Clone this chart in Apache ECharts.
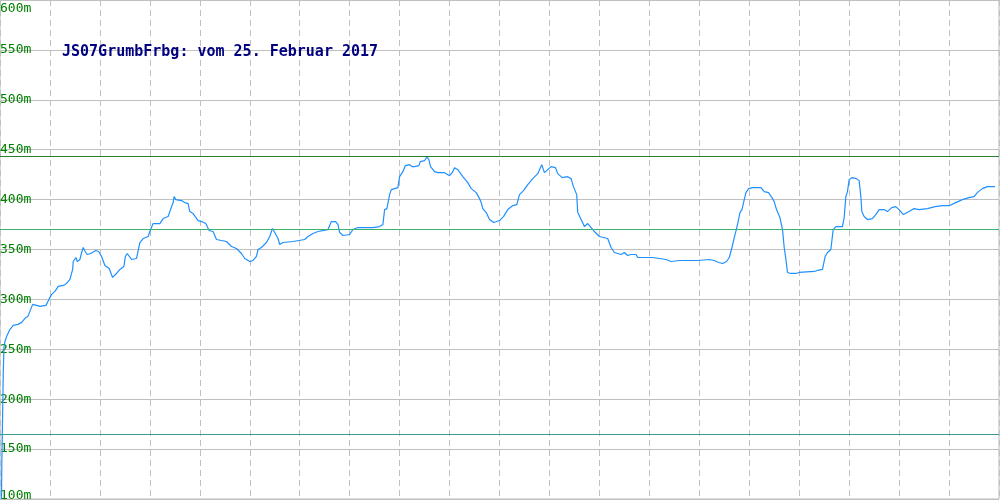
<!DOCTYPE html>
<html>
<head>
<meta charset="utf-8">
<script src="https://cdn.jsdelivr.net/npm/echarts@6/dist/echarts.min.js"></script>
<style>html,body{margin:0;padding:0;background:#fff}#c{width:1000px;height:500px}</style>
</head>
<body>
<div id="c"></div>
<script>
const titleText = 'JS07GrumbFrbg: vom 25. Februar 2017';
const distX = [1.5,1.8,2.7,3.3,4,5,6.7,10,13.3,18,21.7,25,28,30.7,32.7,36.7,40,46,49,51.7,55,58.3,63.3,66.7,70,72.7,73.3,76,77.3,78.7,80,81.7,83.3,85.3,87.3,90.7,92.7,96,98.7,101.7,105,109.3,112.7,116.7,120,124,125.5,127.3,131.7,136.7,138.3,140,143.3,148.3,150.7,153.3,160,163.3,168.3,170.7,173.3,174.3,176,181.7,185,188.3,190,193.3,198.3,201.7,206,209.3,213.3,216.7,221.7,226.7,231.7,236.7,241.7,245,250,253.3,256.7,258.3,261.7,266.7,270,272.7,275,278.3,280,283.3,293.3,305,308.3,313.3,318.3,328.3,331.7,336,338.3,340,343.3,350,353.3,358.3,373.3,380,383.3,385,387.3,390,391.7,398.3,400,403.3,405.7,410,412.7,415,419.3,420.7,425,427.3,429.3,431,435,438.3,445,450,452.7,455,458.3,463.3,468.3,471.7,476.7,480,481.7,483.3,486.7,490,494.3,500,504,508.3,513.3,517.3,520,524,528.3,533.3,538.3,542.3,545,548.3,551.7,556,558.3,562.7,568.3,571.7,574,577.3,578.3,581.7,585,588.3,591,595,600,608.3,611.7,615,621.7,625,628.3,631.7,636.7,638.3,653.3,666.7,671.7,680,698.3,710,715,719.3,723.3,727.3,730,732.7,735,737.3,739.3,740.7,742.7,745,746.7,749.3,753.3,761.7,765,769.3,772.7,775,777.3,780.7,783.3,785,786.7,788.3,791.7,796.7,800,815,818.3,823.3,826,828.3,831.7,834,836.7,843.3,845,846.7,848.3,850,852.7,857.3,860,861.7,862.7,865,868.3,873.3,876.7,880,885,888.3,892.7,896.7,900,904.3,910,915,920,928.3,936,943.3,950.7,956.7,963.3,970,975,978.3,983.3,988.3,996];
const elevation = [100,133,190,228,253,258,263,270,274,275,277,281,283,290,295,294,293,294,300,305,308,313,314,316,320,330,338,342,338,336,340,347,352,348,345,346,347,349,348,343,334,331,322,326,330,333,343,346,340,341,343,357,361,363,370,376,376,381,383,390,397,403,400,399,397,396,388,386,379,378,376,369,368,360,359,358,353,351,346,341,338,339,343,350,352,357,363,371,367,361,355,357,358,360,363,366,368,370,378,378,375,367,364,365,370,372,372,373,375,390,391,405,410,412,423,428,434,435,433,433,434,438,439,443,440,433,428,427,427,424,427,432,430,423,417,411,407,401,397,391,387,380,377,379,383,390,394,395,405,409,415,421,426,435,427,430,433,432,426,422,423,421,413,405,387,380,373,376,373,368,363,361,352,347,345,347,344,345,345,342,342,340,338,339,339,340,339,337,336,338,342,352,362,371,380,387,390,400,407,411,412,412,408,407,402,398,390,382,370,352,340,327,326,326,327,328,329,330,343,347,350,370,373,373,382,403,408,420,422,421,419,403,388,383,380,381,385,390,390,388,392,393,390,385,388,391,390,391,393,394,394,397,400,402,403,407,411,413,413];
const refLines = [443, 370, 165];
const refColors = ['#2a7d2a', '#3cb371', '#3a9a94'];
const yMin = 100, yMax = 600, yStep = 50;

const chart = echarts.init(document.getElementById('c'), null, {renderer: 'canvas'});
const lineData = distX.map((x, i) => [x, elevation[i]]);
chart.setOption({
  animation: false,
  backgroundColor: '#ffffff',
  title: {
    text: titleText, left: 57, top: 40,
    textStyle: {fontFamily: 'DejaVu Sans Mono', fontSize: 15, fontWeight: 'bold', color: '#000080'}
  },
  grid: {left: 0, top: 0, right: 1, bottom: 1, containLabel: false, outerBoundsMode: 'none',
    show: true, borderColor: '#b8b8b8', borderWidth: 1, backgroundColor: '#fff'},
  xAxis: {
    type: 'value', min: 0, max: 1000, interval: 50,
    axisLine: {show: false}, axisTick: {show: false}, axisLabel: {show: false},
    splitLine: {show: true, lineStyle: {color: '#c0c0c0', width: 1, type: [6, 4]}}
  },
  yAxis: {
    type: 'value', min: yMin, max: yMax, interval: yStep,
    axisLine: {show: false}, axisTick: {show: false},
    splitLine: {show: true, lineStyle: {color: '#c0c0c0', width: 1, type: 'solid'}},
    axisLabel: {
      inside: true, margin: 0,
      fontFamily: 'DejaVu Sans Mono', fontSize: 13, color: '#008000',
      formatter: function (v) {
        if (v === yMax) return '{top|' + v + 'm}';
        if (v === yMin) return '{bot|' + v + 'm}';
        return v + 'm';
      },
      rich: {
        top: {padding: [18, 0, 0, 0], fontFamily: 'DejaVu Sans Mono', fontSize: 13, color: '#008000'},
        bot: {padding: [0, 0, 7, 0], fontFamily: 'DejaVu Sans Mono', fontSize: 13, color: '#008000'}
      }
    }
  },
  series: [{
    type: 'line', data: lineData, showSymbol: false, symbol: 'none',
    lineStyle: {color: '#1e90ff', width: 1.2}, clip: true,
    markLine: {
      silent: true, symbol: 'none', label: {show: false},
      data: refLines.map((v, i) => ({yAxis: v, lineStyle: {color: refColors[i], width: 1, type: 'solid'}}))
    }
  }]
});
</script>
</body>
</html>
